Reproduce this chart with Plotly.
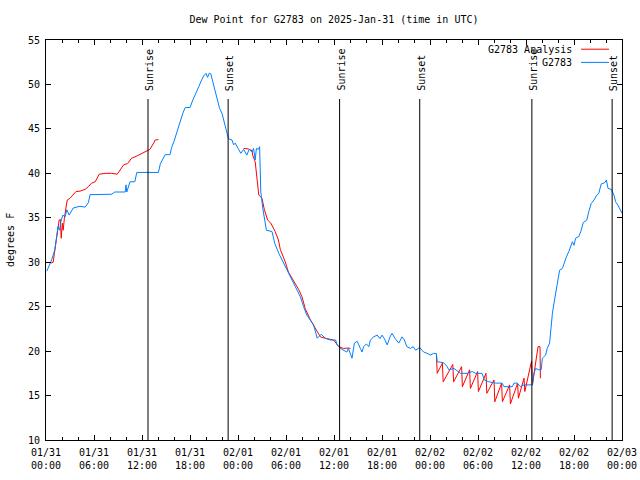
import pandas as pd
import plotly.graph_objects as go

BASE = pd.Timestamp("2025-01-31 00:00")

# Observed dew point (G2783): hours since 01/31 00:00 UTC, degrees F
obs_hours = [0.1, 0.4, 0.7, 1.1, 1.3, 1.5, 1.7, 1.85, 2.1, 2.4, 2.6, 2.9, 3.4, 4.25, 4.9, 5.3, 5.5, 6.5,
             7.6, 8.2, 8.6, 9.9, 10.0, 10.1, 10.5, 11.1, 11.35, 14.05, 14.3, 14.7, 14.9, 15.5, 15.7, 16.0,
             16.3, 16.55, 16.8, 17.1, 17.4, 18.0, 18.35, 18.65, 19.1, 19.35, 19.7, 20.0, 20.2, 20.4, 20.6,
             20.85, 21.15, 21.45, 21.7, 22.0, 22.3, 22.5, 22.8, 23.25, 23.45, 23.65, 23.95, 24.35, 24.7,
             25.1, 25.4, 25.75, 25.95, 26.15, 26.3, 26.55, 26.7, 26.85, 27.1, 27.3, 27.55, 28.25, 28.6,
             29.1, 29.7, 30.3, 30.75, 31.4, 31.8, 32.2, 32.6, 33.05, 33.45, 33.9, 34.4, 34.9, 35.55, 36.2,
             36.4, 36.8, 37.2, 37.6, 37.8, 38.25, 38.55, 38.9, 39.3, 39.5, 39.7, 40.05, 40.35, 40.55,
             40.95, 41.4, 41.75, 42.0, 42.3, 42.65, 43.0, 43.25, 43.65, 44.1, 44.5, 44.8, 45.1, 45.55,
             45.9, 46.2, 46.7, 47.2, 47.65, 48.05, 48.45, 48.8, 48.9, 49.7, 50.15, 50.35, 51.0, 51.8,
             52.65, 53.3, 53.7, 54.5, 54.8, 55.35, 56.2, 57.0, 57.25, 58.3, 58.5, 58.9, 59.3, 59.75, 60.8,
             61.0, 61.2, 61.6, 61.9, 62.05, 62.45, 62.65, 62.95, 63.1, 63.3, 63.5, 63.7, 63.9, 64.2,
             64.55, 64.75, 65.05, 65.35, 65.6, 65.8, 66.0, 66.2, 66.6, 66.85, 67.15, 67.6, 67.85, 68.15,
             68.5, 68.85, 69.1, 69.4, 69.85, 70.05, 70.25, 70.65, 71.0, 71.2, 71.5, 71.85, 72.0]
obs_values = [29.0, 29.6, 30.25, 31.4, 32.8, 34.0, 33.6, 34.55, 35.3, 35.1, 35.9, 35.3, 36.1, 36.3, 36.2, 36.7,
              37.6, 37.6, 37.6, 37.65, 37.9, 37.9, 38.7, 37.9, 39.05, 39.05, 40.1, 40.1, 41.1, 41.9, 42.1,
              42.1, 42.9, 43.6, 44.5, 45.25, 46.0, 46.75, 47.4, 47.4, 48.25, 48.8, 49.75, 50.3, 50.95,
              51.25, 50.8, 51.25, 51.2, 50.3, 49.2, 48.05, 47.3, 46.75, 45.6, 44.7, 43.9, 43.75, 43.2,
              43.4, 42.9, 42.25, 42.7, 42.05, 42.7, 42.4, 42.8, 41.5, 42.8, 42.7, 43.0, 37.9, 36.05, 34.75,
              33.6, 33.45, 32.1, 31.0, 29.9, 28.75, 28.0, 26.9, 26.1, 25.0, 24.05, 23.5, 22.95, 21.45,
              21.9, 21.45, 21.25, 21.25, 20.7, 20.3, 20.1, 19.9, 20.3, 19.2, 20.9, 21.1, 20.3, 19.9, 20.5,
              20.8, 20.5, 21.25, 21.6, 21.8, 21.4, 21.8, 21.4, 20.7, 21.6, 22.0, 21.4, 20.9, 21.6, 21.25,
              20.5, 20.3, 20.5, 20.1, 20.4, 19.9, 19.75, 19.55, 19.75, 19.7, 18.8, 18.7, 18.25, 17.9,
              18.05, 17.5, 17.5, 17.7, 17.5, 17.5, 16.75, 16.55, 16.4, 16.4, 16.0, 16.0, 16.4, 16.4, 16.0,
              16.2, 16.2, 17.5, 18.05, 17.9, 17.9, 19.2, 19.55, 20.3, 20.9, 22.75, 24.25, 25.4, 26.5, 27.8,
              29.1, 29.3, 29.9, 30.6, 31.2, 31.75, 32.3, 31.9, 32.7, 32.9, 33.45, 34.45, 34.75, 35.7, 36.6,
              37.0, 37.55, 37.75, 38.8, 38.95, 39.25, 38.3, 38.2, 37.55, 36.8, 36.4, 35.7, 35.5]

# Analysis dew point (G2783 Analysis), three segments separated by gaps (None)
ana_hours = [0.6, 0.9, 1.05, 1.2, 1.45, 1.65, 1.8, 1.9, 2.05, 2.15, 2.3, 2.5, 2.65, 3.0, 3.4, 3.75, 4.25,
             4.9, 5.3, 5.7, 6.15, 6.65, 7.4, 8.2, 8.9, 9.25, 9.7, 10.2, 10.7, 11.35, 11.95, 12.6, 13.0,
             13.45, 13.65, 14.05, None,
             24.7, 25.3, 25.75, 25.85, 26.15, 26.35, 26.6, 27.0, 27.3, 27.7, 28.1, 28.65, 29.05, 29.3,
             29.9, 30.3, 31.15, 31.6, 32.0, 32.4, 33.05, 33.65, 34.3, 34.9, 35.95, 36.6, 37.2, 37.85,
             38.05, None,
             48.8, 48.9, 49.55, 49.65, 50.85, 50.95, 51.95, 52.05, 52.95, 53.05, 53.95, 54.05, 55.0,
             55.1, 56.0, 56.1, 56.95, 57.05, 57.95, 58.05, 58.95, 59.05, 59.75, 59.85, 60.7, 60.8, 61.5,
             61.75, 61.8]
ana_values = [29.9, 30.0, 31.0, 31.95, 33.6, 34.75, 34.8, 32.7, 34.4, 33.6, 34.95, 36.05, 37.0, 37.2, 37.55,
              37.95, 38.0, 38.2, 38.5, 38.9, 39.05, 39.9, 40.0, 40.0, 39.9, 40.4, 40.95, 41.1, 41.7,
              41.95, 42.25, 42.5, 42.7, 43.4, 43.75, 43.8, None,
              42.8, 42.75, 42.55, 42.0, 41.3, 39.45, 37.55, 37.2, 35.9, 34.75, 34.4, 33.45, 32.5, 31.4,
              30.05, 28.9, 27.6, 26.9, 26.1, 24.8, 23.5, 22.55, 21.6, 21.45, 21.25, 20.5, 20.3, 20.35,
              20.3, None,
              19.7, 17.5, 18.65, 16.55, 18.5, 16.55, 18.25, 16.0, 17.9, 15.8, 17.7, 15.45, 17.5, 15.25,
              16.75, 14.3, 16.4, 14.3, 16.2, 14.05, 16.4, 14.7, 16.95, 15.45, 18.9, 16.2, 20.5, 20.5,
              16.95]

# Sun events (UTC)
sun_times = ["2025-01-31 12:45", "2025-01-31 22:46", "2025-02-01 12:42",
             "2025-02-01 22:43", "2025-02-02 12:44", "2025-02-02 22:46"]
sun_labels = ["Sunrise", "Sunset", "Sunrise", "Sunset", "Sunrise", "Sunset"]

# X tick positions and labels
tick_times = pd.date_range("2025-01-31 00:00", "2025-02-03 00:00", freq="6h")
tick_text = [t.strftime("%m/%d") + "<br>" + t.strftime("%H:%M") for t in tick_times]

series_names = ["G2783 Analysis", "G2783"]
series_colors = ["#ff0000", "#0080ff"]


def to_time(hours):
    return [None if h is None else BASE + pd.Timedelta(hours=h) for h in hours]


FONT = "DejaVu Sans Mono"

fig = go.Figure()
fig.add_trace(go.Scatter(x=to_time(ana_hours), y=ana_values, mode="lines", name=series_names[0],
                         line=dict(color=series_colors[0], width=1), connectgaps=False, showlegend=False))
fig.add_trace(go.Scatter(x=to_time(obs_hours), y=obs_values, mode="lines", name=series_names[1],
                         line=dict(color=series_colors[1], width=1), showlegend=False))

shapes = []
annotations = []
for t, lab in zip(sun_times, sun_labels):
    shapes.append(dict(type="line", xref="x", yref="paper", x0=t, x1=t, y0=0, y1=0.8525,
                       line=dict(color="black", width=1)))
    annotations.append(dict(x=t, y=0.8675, xref="x", yref="paper", text=lab, textangle=-90,
                            showarrow=False, xanchor="center", yanchor="bottom", xshift=2,
                            font=dict(family=FONT, size=10, color="black")))

# Gnuplot-style legend (text then line sample)
leg_y = [0.977, 0.944]
for name, col, yy in zip(series_names, series_colors, leg_y):
    annotations.append(dict(x=0.9167, y=yy, xref="paper", yref="paper", text=name, showarrow=False,
                            xanchor="right", yanchor="middle",
                            font=dict(family=FONT, size=10, color="black")))
    shapes.append(dict(type="line", xref="paper", yref="paper", x0=0.9288, x1=0.9774, y0=yy, y1=yy,
                       line=dict(color=col, width=1)))

annotations.append(dict(x=-0.0625, y=0.5, xref="paper", yref="paper", text="degrees F", textangle=-90,
                        showarrow=False, xanchor="center", yanchor="middle",
                        font=dict(family=FONT, size=10, color="black")))

fig.update_layout(
    width=640, height=480,
    margin=dict(l=46, r=18, t=40, b=40, pad=0, autoexpand=False),
    paper_bgcolor="white", plot_bgcolor="white",
    font=dict(family=FONT, size=10, color="black"),
    title=dict(text="Dew Point for G2783 on 2025-Jan-31 (time in UTC)", x=0.5, xref="paper",
               xanchor="center", y=1 - 19 / 480, yanchor="middle",
               font=dict(family=FONT, size=10, color="black")),
    shapes=shapes, annotations=annotations,
)
fig.update_xaxes(type="date", range=[tick_times[0], tick_times[-1]], tickvals=list(tick_times),
                 ticktext=tick_text, ticks="inside", ticklen=5, tickcolor="black", showgrid=False,
                 showline=True, linecolor="black", linewidth=1, mirror="ticks", zeroline=False,
                 automargin=False, ticklabelstandoff=3,
                 minor=dict(dtick=2 * 3600 * 1000, ticks="inside", ticklen=3, tickcolor="black",
                            showgrid=False),
                 tickfont=dict(family=FONT, size=10, color="black"))
fig.update_yaxes(range=[10, 55], dtick=5, tick0=10, ticks="inside", ticklen=5, tickcolor="black",
                 showgrid=False, showline=True, linecolor="black", linewidth=1, mirror="ticks",
                 zeroline=False, automargin=False, ticklabelstandoff=3,
                 tickfont=dict(family=FONT, size=10, color="black"))

# Remove the page's default body margin so the 640x480 figure fills the window exactly
fig.write_html("out.html", config={"displayModeBar": False},
               post_script="document.body.style.margin='0';")
